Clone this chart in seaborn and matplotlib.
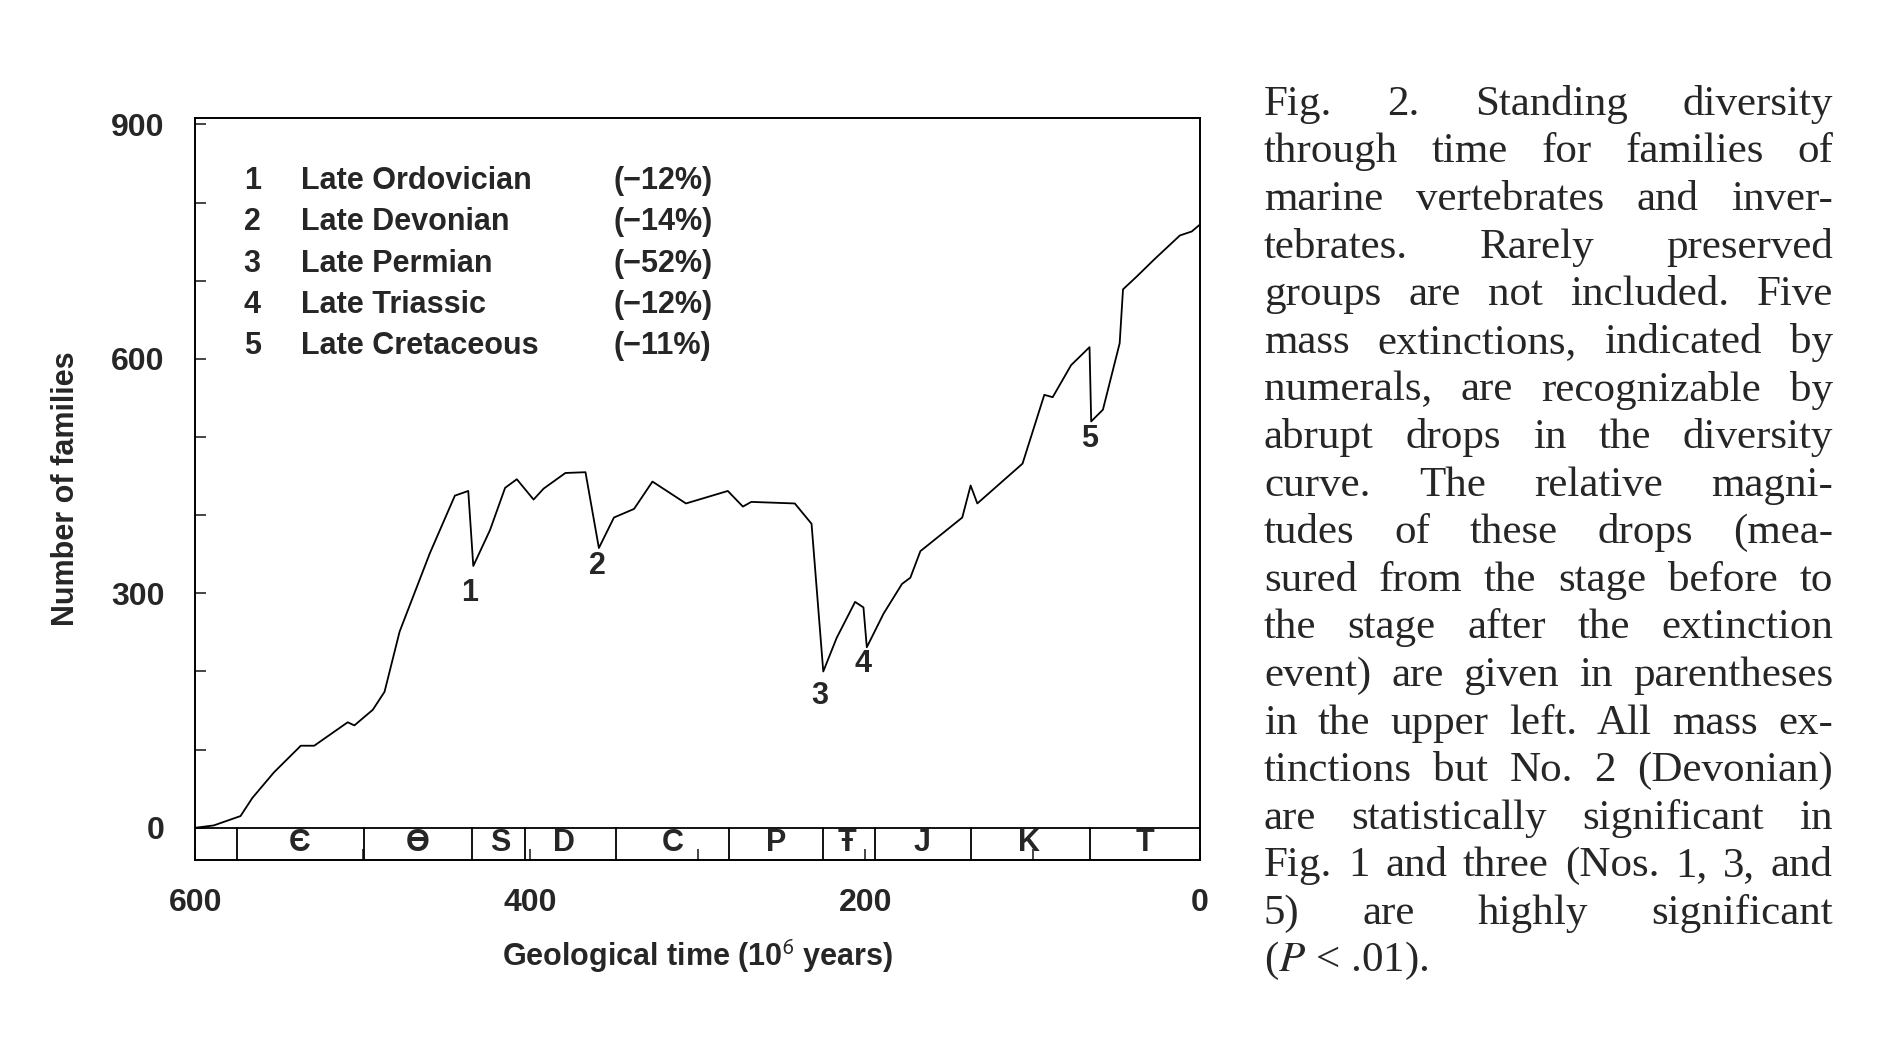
import matplotlib.pyplot as plt
import seaborn as sns
import pandas as pd
from matplotlib.ticker import MultipleLocator

# diversity curve (Ma, number of families)
ma = [600, 589, 581, 573, 566, 553, 537, 529, 509, 505, 494, 487, 478, 460, 445, 437, 434, 424,
      415, 408, 398, 392, 379, 367, 359, 350, 338, 327, 307, 282, 273, 268, 242, 232, 225,
      217, 206, 201, 199, 189, 178, 173, 167, 160, 142, 137, 133, 106, 93, 88, 77, 66, 65,
      58, 48, 46, 38, 27, 12, 5, 0]
families = [0, 3, 9, 15, 38, 71, 105, 105, 135, 131, 151, 174, 251, 351, 425, 431, 335, 381,
            435, 446, 420, 434, 454, 455, 358, 397, 408, 443, 415, 431, 411, 417, 415, 389, 200,
            243, 289, 282, 231, 274, 312, 320, 354, 366, 397, 438, 415, 466, 554, 551, 592, 615, 520,
            535, 620, 689, 705, 728, 758, 763, 772]

boundaries = [575, 499, 435, 403, 349, 281, 225, 194, 137, 66]
periods = ['Є', 'Ɵ', 'S', 'D', 'C', 'P', 'Ŧ', 'J', 'K', 'T']
period_x = [538, 467, 418, 380, 315, 253, 211, 166, 102, 33]

event_num = ['1', '2', '3', '4', '5']
event_x = [436, 360, 227, 201, 66]
event_y = [301, 335, 169, 209, 497]
event_names = ['Late Ordovician', 'Late Devonian', 'Late Permian', 'Late Triassic', 'Late Cretaceous']
event_pct = ['(−12%)', '(−14%)', '(−52%)', '(−12%)', '(−11%)']

caption_lines = [
    "Fig. 2. Standing diversity", "through time for families of", "marine vertebrates and inver-",
    "tebrates. Rarely preserved", "groups are not included. Five", "mass extinctions, indicated by",
    "numerals, are recognizable by", "abrupt drops in the diversity", "curve. The relative magni-",
    "tudes of these drops (mea-", "sured from the stage before to", "the stage after the extinction",
    "event) are given in parentheses", "in the upper left. All mass ex-", "tinctions but No. 2 (Devonian)",
    "are statistically significant in", "Fig. 1 and three (Nos. 1, 3, and", "5) are highly significant",
    "($P$ < .01).",
]

sns.set_style('white')
plt.rcParams['font.family'] = ['Liberation Sans', 'DejaVu Sans']
plt.rcParams['mathtext.fontset'] = 'stix'

fig = plt.figure(figsize=(18.78, 10.46), dpi=100)
ax = fig.add_axes([0.104, 0.178, 0.535, 0.709])
df = pd.DataFrame({'ma': ma, 'families': families})
sns.lineplot(data=df, x='ma', y='families', color='black', lw=1.3, ax=ax)

ax.set_xlim(600, 0)
ax.set_ylim(-41, 908)
ax.set_xticks([600, 400, 200, 0])
ax.xaxis.set_minor_locator(MultipleLocator(100))
ax.set_yticks([0, 300, 600, 900])
ax.yaxis.set_minor_locator(MultipleLocator(100))
ax.tick_params(which='both', direction='in', length=8, width=1.2, top=False, right=False,
               bottom=True, left=True, labelsize=23)
ax.tick_params(axis='x', pad=20)
ax.tick_params(axis='y', pad=22)
for lab in ax.get_xticklabels() + ax.get_yticklabels():
    lab.set_fontweight('bold')
for s in ax.spines.values():
    s.set_linewidth(1.4)
    s.set_color('black')
ax.set_xlabel('Geological time (10$^{\\mathsf{6}}$ years)', fontsize=22, fontweight='bold', labelpad=14)
ax.set_ylabel('Number of families', fontsize=22, fontweight='bold', labelpad=22)

# period strip
ax.axhline(0, color='black', lw=1.3)
for b in boundaries:
    ax.plot([b, b], [-41, 0], color='black', lw=1.3)
for p, x in zip(periods, period_x):
    ax.text(x, -20, p, ha='center', va='center', fontsize=22, fontweight='bold')

for n, x, y in zip(event_num, event_x, event_y):
    ax.text(x, y, n, ha='center', va='center', fontsize=22, fontweight='bold')

for i, (n, name, pct) in enumerate(zip(event_num, event_names, event_pct)):
    y = 828 - i * 53
    ax.text(566, y, n, ha='center', va='center', fontsize=22, fontweight='semibold')
    ax.text(537, y, name, ha='left', va='center', fontsize=22, fontweight='semibold')
    ax.text(350, y, pct, ha='left', va='center', fontsize=22, fontweight='semibold')

# justified caption
fig.canvas.draw()
r = fig.canvas.get_renderer()
x0, x1 = 0.673, 0.976
W = fig.bbox.width
for i, line in enumerate(caption_lines):
    y = 0.900 - i * 0.0455
    words = line.split(' ')
    if i == len(caption_lines) - 1:
        fig.text(x0, y, line, fontsize=31, family='Liberation Serif', va='center')
        continue
    texts = [fig.text(0, y, w, fontsize=31, family='Liberation Serif', va='center') for w in words]
    widths = [t.get_window_extent(r).width / W for t in texts]
    gap = max((x1 - x0 - sum(widths)) / max(len(words) - 1, 1), 0.003)
    x = x0
    for t, w in zip(texts, widths):
        t.set_x(x)
        x += w + gap

fig.savefig('out.png', dpi=100)
